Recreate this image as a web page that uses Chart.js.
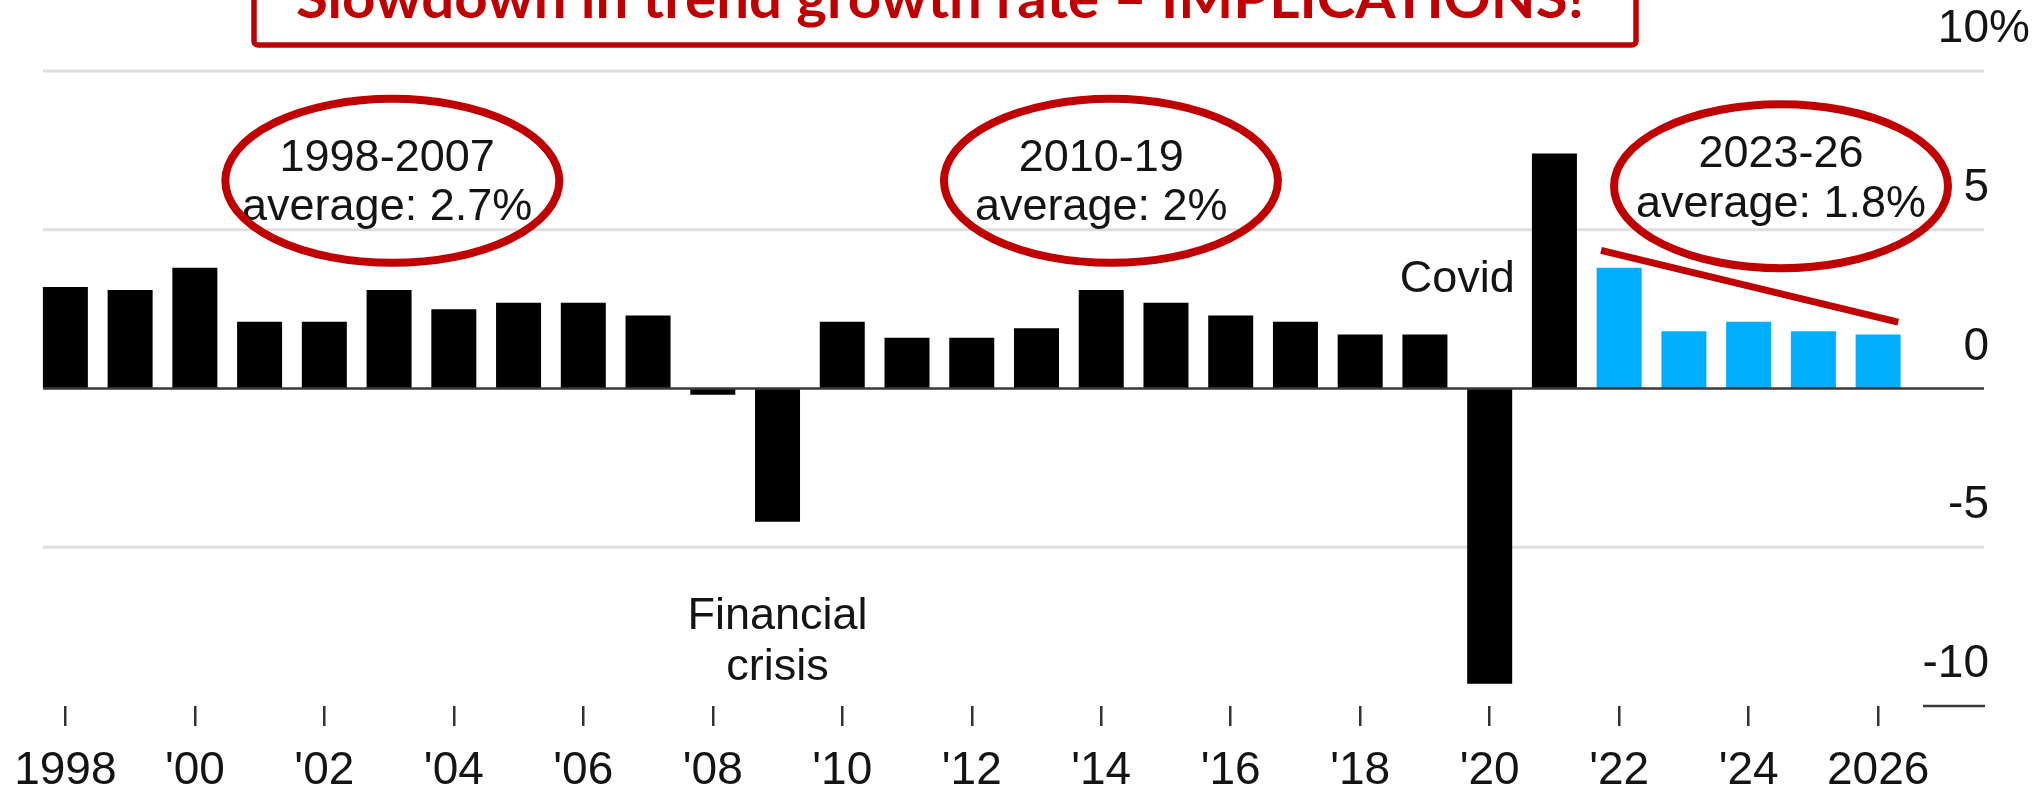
<!DOCTYPE html>
<html>
<head>
<meta charset="utf-8">
<title>Trend growth</title>
<script src="https://cdn.jsdelivr.net/npm/chart.js@4.4.1/dist/chart.umd.min.js"></script>
<style>
  html, body { margin: 0; padding: 0; background: #fff; }
  #wrap { position: relative; width: 2041px; height: 790px; }
</style>
</head>
<body>
<div id="wrap"><canvas id="growthChart" width="2041" height="790"></canvas></div>
<script>
// annual GDP growth, %, with forecasts from 2022
const years = [1998, 1999, 2000, 2001, 2002, 2003, 2004, 2005, 2006, 2007,
               2008, 2009, 2010, 2011, 2012, 2013, 2014, 2015, 2016, 2017,
               2018, 2019, 2020, 2021, 2022, 2023, 2024, 2025, 2026];
const growth = [3.2, 3.1, 3.8, 2.1, 2.1, 3.1, 2.5, 2.7, 2.7, 2.3,
                -0.2, -4.2, 2.1, 1.6, 1.6, 1.9, 3.1, 2.7, 2.3, 2.1,
                1.7, 1.7, -9.3, 7.4, 3.8, 1.8, 2.1, 1.8, 1.7];
const forecastFrom = 2022;

const tickYears = [1998, 2000, 2002, 2004, 2006, 2008, 2010, 2012, 2014, 2016, 2018, 2020, 2022, 2024, 2026];
const tickLabels = ['1998', "'00", "'02", "'04", "'06", "'08", "'10", "'12", "'14", "'16", "'18", "'20", "'22", "'24", '2026'];

const yTicks = [10, 5, 0, -5, -10];
const yTickLabels = ['10', '5', '0', '-5', '-10'];
const yUnit = '%';

const periodNames = ['1998-2007', '2010-19', '2023-26'];
const periodAverages = ['average: 2.7%', 'average: 2%', 'average: 1.8%'];
const titleText = 'Slowdown in trend growth rate \u2013 IMPLICATIONS!';

const RED = '#c00000';
const INK = '#141414';
const FONT = '"Liberation Sans", Arial, Helvetica, sans-serif';

// where the circled notes sit, in category index / axis units
const callouts = [
    { at: 5.05, y: 6.54, textAt: 4.97, dy1: -10, dy2: 39 },
    { at: 16.15, y: 6.54, textAt: 16.0, dy1: -10, dy2: 39 },
    { at: 26.5, y: 6.37, textAt: 26.5, dy1: -19, dy2: 31 }
];

const overlay = {
    id: 'overlay',
    beforeDatasetsDraw(chart) {
        const ctx = chart.ctx;
        const y = chart.scales.y;
        ctx.save();
        ctx.strokeStyle = '#dedede';
        ctx.lineWidth = 3;
        [10, 5, -5].forEach(v => {
            const py = y.getPixelForValue(v);
            ctx.beginPath();
            ctx.moveTo(43, py);
            ctx.lineTo(1984, py);
            ctx.stroke();
        });
        ctx.restore();
    },
    afterDatasetsDraw(chart) {
        const ctx = chart.ctx;
        const x = chart.scales.x;
        const y = chart.scales.y;
        ctx.save();

        // zero line and the short base mark under the labels
        ctx.strokeStyle = '#3a3a3a';
        ctx.lineWidth = 2.5;
        ctx.beginPath();
        ctx.moveTo(43, y.getPixelForValue(0));
        ctx.lineTo(1984, y.getPixelForValue(0));
        ctx.moveTo(1923, y.getPixelForValue(-10));
        ctx.lineTo(1985, y.getPixelForValue(-10));
        ctx.stroke();

        // y labels sit above their gridlines, unit hangs to the right
        ctx.fillStyle = INK;
        ctx.font = '46px ' + FONT;
        ctx.textBaseline = 'alphabetic';
        yTicks.forEach((v, k) => {
            const py = y.getPixelForValue(v) - 29;
            ctx.textAlign = 'right';
            ctx.fillText(yTickLabels[k], 1989, py);
            if (k === 0) {
                ctx.textAlign = 'left';
                ctx.fillText(yUnit, 1989, py);
            }
        });

        // x labels
        ctx.textAlign = 'center';
        tickYears.forEach((yr, k) => {
            ctx.fillText(tickLabels[k], x.getPixelForValue(years.indexOf(yr)), 784);
        });

        // event notes
        ctx.font = '45px ' + FONT;
        ctx.textAlign = 'right';
        ctx.fillText('Covid', x.getPixelForValue(years.indexOf(2020)) + 25, y.getPixelForValue(3.05));
        ctx.textAlign = 'center';
        const fx = x.getPixelForValue(years.indexOf(2009));
        const fy = y.getPixelForValue(-7.58);
        ctx.fillText('Financial', fx, fy);
        ctx.fillText('crisis', fx, fy + 51);

        // circled period averages
        callouts.forEach((c, k) => {
            const cx = x.getPixelForValue(c.at);
            const cy = y.getPixelForValue(c.y);
            const tx = x.getPixelForValue(c.textAt);
            ctx.fillStyle = INK;
            ctx.fillText(periodNames[k], tx, cy + c.dy1);
            ctx.fillText(periodAverages[k], tx, cy + c.dy2);
            ctx.strokeStyle = RED;
            ctx.lineWidth = 8;
            ctx.beginPath();
            ctx.ellipse(cx, cy, 167, 82, 0, 0, Math.PI * 2);
            ctx.stroke();
        });

        // downward trend stroke over the forecast bars
        ctx.strokeStyle = RED;
        ctx.lineWidth = 7;
        ctx.lineCap = 'butt';
        ctx.beginPath();
        ctx.moveTo(x.getPixelForValue(23.72), y.getPixelForValue(4.35));
        ctx.lineTo(x.getPixelForValue(28.31), y.getPixelForValue(2.09));
        ctx.stroke();

        // headline box, running off the top edge
        ctx.lineWidth = 5.5;
        ctx.beginPath();
        ctx.roundRect(254, -40, 1382, 85, 4);
        ctx.stroke();
        ctx.fillStyle = RED;
        ctx.font = 'bold 56px Lato, "Open Sans", sans-serif';
        ctx.textAlign = 'left';
        const w = ctx.measureText(titleText).width;
        ctx.translate(296, 17.5);
        ctx.scale(1288 / w, 1);
        ctx.fillText(titleText, 0, 0);

        ctx.restore();
    }
};

const ctx = document.getElementById('growthChart').getContext('2d');

const data = {
    labels: years.map(String),
    datasets: [{
        label: 'GDP growth',
        data: growth,
        backgroundColor: years.map(yr => yr >= forecastFrom ? '#00aeff' : '#000000'),
        borderWidth: 0,
        categoryPercentage: 1,
        barPercentage: 0.695
    }]
};

const config = {
    type: 'bar',
    data: data,
    options: {
        responsive: false,
        animation: false,
        layout: {
            padding: { left: 33, right: 130.5, top: 71, bottom: 64 }
        },
        scales: {
            x: {
                ticks: { display: false },
                border: { display: false },
                grid: {
                    offset: false,
                    drawOnChartArea: false,
                    drawTicks: true,
                    tickLength: 20,
                    lineWidth: 2.5,
                    color: c => (years[c.index] % 2 === 0 ? '#333333' : 'rgba(0,0,0,0)')
                }
            },
            y: {
                display: false,
                min: -10,
                max: 10
            }
        },
        plugins: {
            legend: { display: false },
            tooltip: { enabled: false }
        }
    },
    plugins: [overlay]
};

const growthChart = new Chart(ctx, config);
</script>
</body>
</html>
